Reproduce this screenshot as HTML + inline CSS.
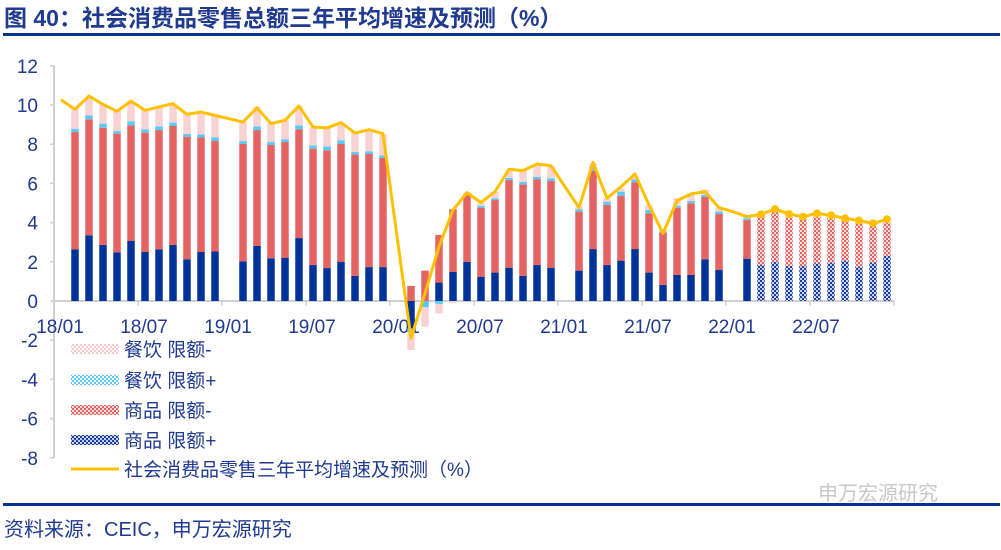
<!DOCTYPE html>
<html><head><meta charset="utf-8"><style>
body{margin:0;background:#fff;width:1001px;height:545px;overflow:hidden;font-family:"Liberation Sans","Noto Sans CJK SC",sans-serif;}
</style></head><body>
<svg id="chart" width="1001" height="545" xmlns="http://www.w3.org/2000/svg">
<defs>
<pattern id="pPink" width="4" height="4" patternUnits="userSpaceOnUse"><rect width="4" height="4" fill="#fff"/><rect width="2" height="2" fill="#f7c9c9"/><rect x="2" y="2" width="2" height="2" fill="#f7c9c9"/></pattern>
<pattern id="pCyan" width="4" height="4" patternUnits="userSpaceOnUse"><rect width="4" height="4" fill="#fff"/><rect width="2" height="2" fill="#5cc8f5"/><rect x="2" y="2" width="2" height="2" fill="#5cc8f5"/></pattern>
<pattern id="pRed" width="4" height="4" patternUnits="userSpaceOnUse"><rect width="4" height="4" fill="#fbdede"/><rect width="2" height="2" fill="#e46464"/><rect x="2" y="2" width="2" height="2" fill="#e46464"/></pattern>
<pattern id="pBlue" width="4" height="4" patternUnits="userSpaceOnUse"><rect width="4" height="4" fill="#c9d3ee"/><rect width="2" height="2" fill="#1f3f9f"/><rect x="2" y="2" width="2" height="2" fill="#1f3f9f"/></pattern>
</defs>
<text x="4" y="26" font-size="23" font-weight="bold" fill="#1f3a8f">图 40：社会消费品零售总额三年平均增速及预测（%）</text>
<rect x="3" y="33" width="997" height="3" fill="#0a3390"/>
<rect x="3" y="503" width="997" height="3" fill="#0a3390"/>
<text x="4" y="536" font-size="20" fill="#1f3a8f">资料来源：CEIC，申万宏源研究</text>
<text x="818" y="500" font-size="20" fill="#c8c8c8">申万宏源研究</text>
<g id="g"></g>
</svg>
<script>
const months=["18/01","18/02","18/03","18/04","18/05","18/06","18/07","18/08","18/09","18/10","18/11","18/12","19/01","19/02","19/03","19/04","19/05","19/06","19/07","19/08","19/09","19/10","19/11","19/12","20/01","20/02","20/03","20/04","20/05","20/06","20/07","20/08","20/09","20/10","20/11","20/12","21/01","21/02","21/03","21/04","21/05","21/06","21/07","21/08","21/09","21/10","21/11","21/12","22/01","22/02","22/03","22/04","22/05","22/06","22/07","22/08","22/09","22/10","22/11","22/12"];
// commodity above-limit (blue)
const goodsPlus=[null,2.64,3.35,2.86,2.48,3.06,2.5,2.64,2.86,2.13,2.5,2.53,null,2.02,2.81,2.18,2.21,3.21,1.84,1.68,1.99,1.28,1.73,1.73,null,-1.4,0,0.94,1.48,2.0,1.24,1.45,1.7,1.28,1.84,1.7,null,1.55,2.65,1.84,2.06,2.65,1.45,0.82,1.33,1.33,2.13,1.58,null,2.16,1.84,2.0,1.79,1.79,1.92,1.96,2.04,1.75,1.96,2.3];
// commodity below-limit (red)
const goodsMinus=[null,5.98,5.92,5.98,6.06,5.9,6.09,6.08,6.07,6.25,5.85,5.63,null,5.99,5.91,5.78,5.9,5.55,5.93,6.01,6.02,6.19,5.77,5.57,null,0.77,1.55,2.43,3.2,3.44,3.52,3.7,4.47,4.66,4.38,4.42,null,3.01,4.0,3.06,3.31,3.4,3.02,2.67,3.43,3.65,3.18,2.86,null,1.97,2.46,2.56,2.48,2.38,2.38,2.26,2.06,2.21,1.87,1.7];
// catering above-limit (cyan)
const cateringPlus=[null,0.17,0.2,0.21,0.13,0.21,0.17,0.19,0.17,0.14,0.15,0.19,null,0.15,0.19,0.15,0.14,0.2,0.17,0.2,0.19,0.13,0.14,0.13,null,-0.2,-0.32,-0.15,0,0,0.1,0.09,0.11,0.13,0.12,0.14,null,0.12,0.2,0.17,0.21,0.16,0.17,0.06,0.1,0.12,0.1,0.12,null,0.09,0,0,0,0,0,0,0,0,0,0];
// catering below-limit (pink)
const cateringMinus=[null,1.02,0.94,1.02,1.06,0.98,1.0,0.99,0.93,1.04,1.16,1.07,null,0.97,0.99,0.94,0.97,0.99,0.94,0.94,0.9,0.97,1.07,1.06,null,-0.9,-0.99,-0.48,-0.1,0.09,0.12,0.34,0.37,0.61,0.6,0.59,null,0.13,0.17,0.17,0.17,0.17,0.26,0.13,0.39,0.31,0.27,0.17,null,0.08,0,0,0,0,0,0,0,0,0,0];
const avgGrowth=[10.27,9.78,10.46,10.03,9.68,10.2,9.73,9.9,10.07,9.52,9.64,9.47,9.3,9.13,9.86,9.05,9.22,9.95,8.88,8.83,9.1,8.57,8.74,8.54,3.3,-1.9,0.4,2.77,4.64,5.53,5.02,5.58,6.72,6.65,6.99,6.9,5.83,4.76,7.07,5.24,5.83,6.48,4.9,3.45,5.12,5.46,5.58,4.76,4.56,4.3,4.42,4.69,4.44,4.3,4.47,4.37,4.22,4.1,3.96,4.17];
const forecastStart=50;
const yTicks=[12,10,8,6,4,2,0,-2,-4,-6,-8];
const xTickLabels=["18/01","18/07","19/01","19/07","20/01","20/07","21/01","21/07","22/01","22/07"];

const NS="http://www.w3.org/2000/svg";
const g=document.getElementById('g');
const X0=54,MW=14,Y0=301,YS=19.6;
const xEdge=i=>X0+MW*i;
const xC=i=>X0+MW*i+MW/2;
const y=v=>Y0-v*YS;
function mk(t,a,p){const e=document.createElementNS(NS,t);for(const k in a)e.setAttribute(k,a[k]);(p||g).appendChild(e);return e;}

const ax=mk('line',{x1:X0,y1:y(12),x2:X0,y2:y(-8),stroke:'#d0d0d0','stroke-width':2});


yTicks.forEach(t=>{
  const tk=mk('line',{x1:X0-4,y1:y(t),x2:X0,y2:y(t),stroke:'#d0d0d0','stroke-width':1.5});
  
  
  const lb=mk('text',{x:38,y:y(t)+7,'text-anchor':'end','font-size':19,fill:'#1f3a8f'});
  lb.textContent=t;
  
  
});
const xa=mk('line',{x1:X0,y1:Y0,x2:xEdge(months.length),y2:Y0,stroke:'#d0d0d0','stroke-width':2});


xTickLabels.forEach(l=>{
  const i=months.indexOf(l);
  const tk=mk('line',{x1:xEdge(i),y1:Y0,x2:xEdge(i),y2:Y0+5,stroke:'#d0d0d0','stroke-width':1.5});
  
  
  const lb=mk('text',{x:xEdge(i)+6,y:Y0+32,'text-anchor':'middle','font-size':19,fill:'#1f3a8f'});
  lb.textContent=l;
  
  
});
const tk2=mk('line',{x1:xEdge(months.length),y1:Y0,x2:xEdge(months.length),y2:Y0+5,stroke:'#d0d0d0','stroke-width':1.5});



const series=[[goodsPlus,'#003399','url(#pBlue)','goods-plus'],[goodsMinus,'#e46464','url(#pRed)','goods-minus'],[cateringPlus,'#5cc8f5','url(#pCyan)','catering-plus'],[cateringMinus,'#f9d3d3','url(#pPink)','catering-minus']];
const BW=7.5;
months.forEach((m,i)=>{
  if(goodsPlus[i]===null)return;
  let pos=0,neg=0;
  series.forEach(s=>{
    const v=s[0][i]; if(!v)return;
    let a,b;
    if(v>0){a=pos;b=pos+v;pos=b;}else{a=neg;b=neg+v;neg=b;}
    const r=mk('rect',{x:xC(i)-BW/2,y:Math.min(y(a),y(b)),width:BW,height:Math.abs(y(a)-y(b)),fill:i>=forecastStart?s[2]:s[1]});
    
    
  });
});

let d='';
avgGrowth.forEach((v,i)=>{d+=(i?'L':'M')+xC(i)+','+y(v);});
const ln=mk('path',{d:d,fill:'none',stroke:'#ffc000','stroke-width':3,'stroke-linejoin':'round'});


avgGrowth.forEach((v,i)=>{
  if(i<forecastStart)return;
  const c=mk('circle',{cx:xC(i),cy:y(v),r:4,fill:'#ffc000'});
  
  
});

const leg=[['url(#pPink)','餐饮 限额-','legend-catering-minus'],['url(#pCyan)','餐饮 限额+','legend-catering-plus'],['url(#pRed)','商品 限额-','legend-goods-minus'],['url(#pBlue)','商品 限额+','legend-goods-plus'],['line','社会消费品零售三年平均增速及预测（%）','legend-avg-growth']];
const ly=[349,380,410,440,469];
leg.forEach((l,k)=>{
  const grp=mk('g',{});
  
  
  if(l[0]==='line') mk('line',{x1:71,y1:ly[k],x2:119,y2:ly[k],stroke:'#ffc000','stroke-width':3},grp);
  else mk('rect',{x:71,y:ly[k]-5,width:48,height:10,fill:l[0]},grp);
  const t=mk('text',{x:124,y:ly[k]+7,'font-size':19,fill:'#1f3a8f'},grp);
  t.textContent=l[1];
});
</script>
</body></html>
